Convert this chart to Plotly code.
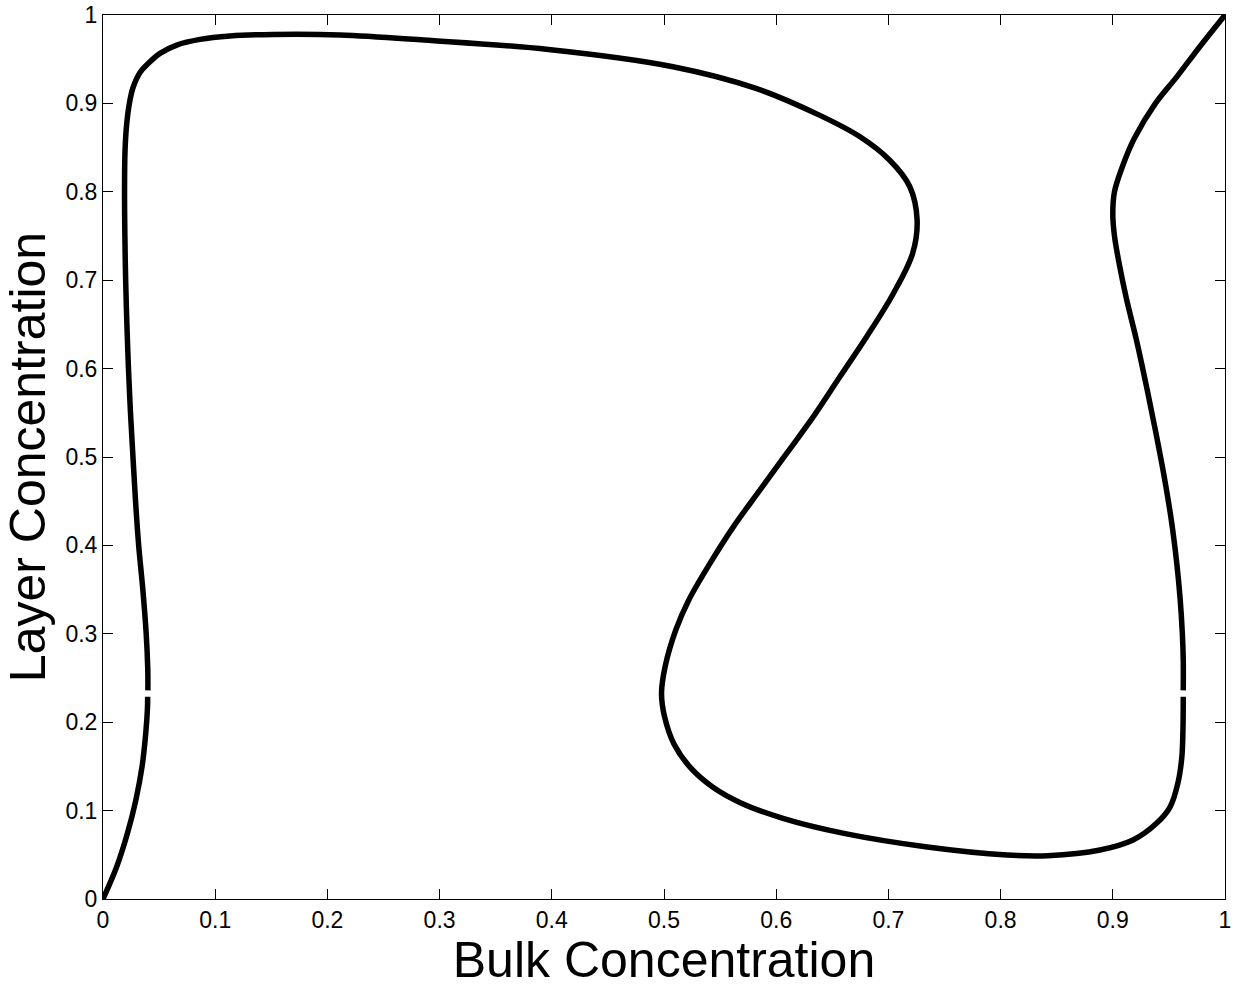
import plotly.graph_objects as go

# Branch 1: lower-left piece (bulk, layer)
b1_bulk = [0.0, 0.0122, 0.0218, 0.0293, 0.0348, 0.0381, 0.0396, 0.0398]
b1_layer = [0.0, 0.0365, 0.0743, 0.112, 0.1497, 0.1874, 0.2150, 0.2289]

# Branch 2: main loop (left upper, top, S-curve, bottom, right lower)
b2_bulk = [0.0400, 0.0399, 0.0385, 0.0355, 0.0318, 0.0290, 0.0267, 0.0245, 0.0227,
           0.0213, 0.0202, 0.0195, 0.0192, 0.0196, 0.0210, 0.0235, 0.0268, 0.0330,
           0.0404, 0.0508, 0.0657, 0.0865, 0.1132, 0.1518, 0.2112, 0.286, 0.397,
           0.508, 0.582, 0.638, 0.675, 0.701, 0.719, 0.7256, 0.7215, 0.7044,
           0.6806, 0.6569, 0.6331, 0.6093, 0.5856, 0.5618, 0.541, 0.522, 0.5105,
           0.5010, 0.4978, 0.5005, 0.5090, 0.5240, 0.5430, 0.5680, 0.606, 0.6604,
           0.733, 0.8056, 0.842, 0.8886, 0.918, 0.939, 0.951, 0.958, 0.9615,
           0.9625, 0.9628]
b2_layer = [0.236, 0.26, 0.30, 0.35, 0.40, 0.45, 0.50, 0.55, 0.60,
            0.65, 0.70, 0.75, 0.80, 0.845, 0.875, 0.900, 0.918, 0.935,
            0.9453, 0.9566, 0.966, 0.9724, 0.9762, 0.978, 0.9774, 0.9717, 0.961,
            0.9415, 0.917, 0.887, 0.862, 0.836, 0.806, 0.768, 0.730, 0.685,
            0.636, 0.591, 0.5456, 0.504, 0.4627, 0.421, 0.3797, 0.338, 0.3043,
            0.2628, 0.2327, 0.2062, 0.1750, 0.1480, 0.1270, 0.1090, 0.0913, 0.0743,
            0.0592, 0.0498, 0.049, 0.0554, 0.0667, 0.0856, 0.104, 0.131, 0.160,
            0.190, 0.2289]

# Branch 3: right upper piece
b3_bulk = [0.9628, 0.9628, 0.9620, 0.9600, 0.9570, 0.9520, 0.9455, 0.9380, 0.9300,
           0.9215, 0.9120, 0.9055, 0.9015, 0.9000, 0.9015, 0.9090, 0.9190, 0.9380,
           0.9570, 0.9780, 1.0]
b3_layer = [0.236, 0.27, 0.30, 0.34, 0.38, 0.43, 0.48, 0.53, 0.58,
            0.63, 0.68, 0.72, 0.75, 0.775, 0.80, 0.83, 0.86, 0.90,
            0.93, 0.965, 1.0]

tick_vals = [0, 0.1, 0.2, 0.3, 0.4, 0.5, 0.6, 0.7, 0.8, 0.9, 1]
tick_text = ["0", "0.1", "0.2", "0.3", "0.4", "0.5", "0.6", "0.7", "0.8", "0.9", "1"]

FONT = "Liberation Sans, Arial, sans-serif"

fig = go.Figure()
for bx, by in [(b1_bulk, b1_layer), (b2_bulk, b2_layer), (b3_bulk, b3_layer)]:
    fig.add_trace(go.Scatter(
        x=bx, y=by, mode="lines",
        line=dict(color="black", width=5.5, shape="spline", smoothing=1.0),
        showlegend=False, hoverinfo="skip"))

axis_common = dict(
    range=[0, 1], tickvals=tick_vals, ticktext=tick_text,
    ticks="inside", ticklen=10, tickwidth=1, tickcolor="black",
    showline=True, linecolor="black", linewidth=1, mirror="ticks",
    showgrid=False, zeroline=False, automargin=False,
    tickfont=dict(family=FONT, size=23, color="black"),
)

fig.update_layout(
    template="none",
    width=1238, height=988,
    margin=dict(l=103, r=13, t=15, b=89),
    paper_bgcolor="white", plot_bgcolor="white",
    font=dict(family=FONT, color="black"),
    xaxis=dict(axis_common,
               title=dict(text="Bulk Concentration", standoff=6,
                          font=dict(size=50, family=FONT))),
    yaxis=dict(axis_common,
               title=dict(text="Layer Concentration", standoff=6,
                          font=dict(size=50, family=FONT))),
)

fig.write_html("out.html")
